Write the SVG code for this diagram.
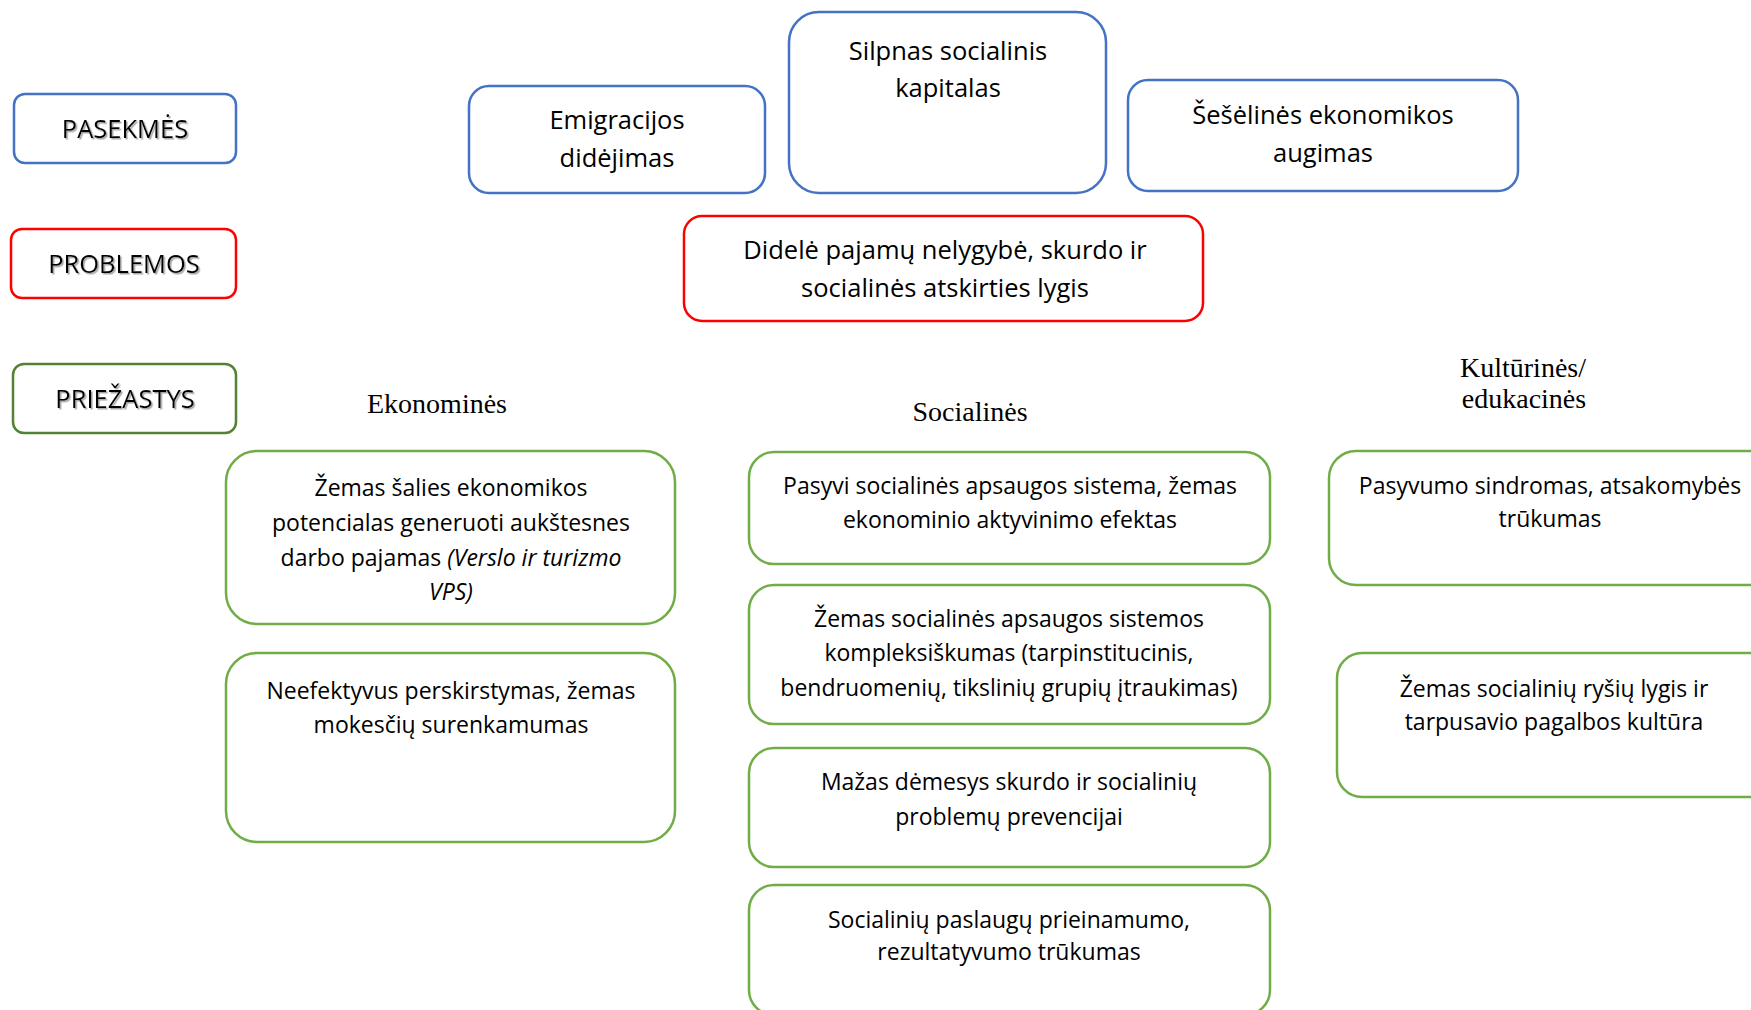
<svg xmlns="http://www.w3.org/2000/svg" width="1751" height="1010" viewBox="0 0 1751 1010">
<defs>
<style>
.t{font-family:"Open Sans","Liberation Sans",sans-serif;fill:#000;text-anchor:middle}
.big{font-size:25.5px}
.sm{font-size:23px}
.lbl{font-size:25.5px}
.hd{font-family:"Liberation Serif",serif;font-size:28px;fill:#000;text-anchor:middle}
.blue{fill:#fff;stroke:#4472C4;stroke-width:2.5}
.red{fill:#fff;stroke:#FF0000;stroke-width:2.5}
.dg{fill:#fff;stroke:#548235;stroke-width:2.5}
.g{fill:#fff;stroke:#70AD47;stroke-width:2.5}
.it{font-style:italic}
</style>
<filter id="sh" x="-10%" y="-30%" width="130%" height="170%">
<feDropShadow dx="1.5" dy="1.5" stdDeviation="0.7" flood-color="#8c8c8c" flood-opacity="0.8"/>
</filter>
</defs>
<rect width="1751" height="1010" fill="#fff"/>

<g id="label-pasekmes">
<rect class="blue" x="14" y="94" width="222" height="69" rx="11"/>
<text class="t lbl" x="125" y="138" filter="url(#sh)">PASEKMĖS</text>
</g>
<g id="label-problemos">
<rect class="red" x="11" y="229" width="225" height="69" rx="11"/>
<text class="t lbl" x="124" y="273" filter="url(#sh)">PROBLEMOS</text>
</g>
<g id="label-priezastys">
<rect class="dg" x="13" y="364" width="223" height="69" rx="11"/>
<text class="t lbl" x="125" y="408" filter="url(#sh)">PRIEŽASTYS</text>
</g>

<g id="emigracijos">
<rect class="blue" x="469" y="86" width="296" height="107" rx="20"/>
<text class="t big" x="617" y="129">Emigracijos</text>
<text class="t big" x="617" y="167">didėjimas</text>
</g>
<g id="silpnas">
<rect class="blue" x="789" y="12" width="317" height="181" rx="30"/>
<text class="t big" x="948" y="60">Silpnas socialinis</text>
<text class="t big" x="948" y="97">kapitalas</text>
</g>
<g id="seseline">
<rect class="blue" x="1128" y="80" width="390" height="111" rx="20"/>
<text class="t big" x="1323" y="124">Šešėlinės ekonomikos</text>
<text class="t big" x="1323" y="162">augimas</text>
</g>
<g id="didele">
<rect class="red" x="684" y="216" width="519" height="105" rx="18"/>
<text class="t big" x="945" y="259">Didelė pajamų nelygybė, skurdo ir</text>
<text class="t big" x="945" y="297">socialinės atskirties lygis</text>
</g>

<g id="hdr-ekonomines"><text class="hd" x="437" y="413">Ekonominės</text></g>
<g id="hdr-socialines"><text class="hd" x="970" y="421">Socialinės</text></g>
<g id="hdr-kulturines">
<text class="hd" x="1523" y="377">Kultūrinės/</text>
<text class="hd" x="1524" y="408">edukacinės</text>
</g>

<g id="eko1">
<rect class="g" x="226" y="451" width="449" height="173" rx="31"/>
<text class="t sm" x="451" y="496">Žemas šalies ekonomikos</text>
<text class="t sm" x="451" y="531">potencialas generuoti aukštesnes</text>
<text class="t sm" x="451" y="566">darbo pajamas <tspan class="it">(Verslo ir turizmo</tspan></text>
<text class="t sm it" x="451" y="600">VPS)</text>
</g>
<g id="eko2">
<rect class="g" x="226" y="653" width="449" height="189" rx="31"/>
<text class="t sm" x="451" y="699">Neefektyvus perskirstymas, žemas</text>
<text class="t sm" x="451" y="733">mokesčių surenkamumas</text>
</g>

<g id="soc1">
<rect class="g" x="749" y="452" width="521" height="112" rx="25"/>
<text class="t sm" x="1010" y="494">Pasyvi socialinės apsaugos sistema, žemas</text>
<text class="t sm" x="1010" y="528">ekonominio aktyvinimo efektas</text>
</g>
<g id="soc2">
<rect class="g" x="749" y="585" width="521" height="139" rx="25"/>
<text class="t sm" x="1009" y="627">Žemas socialinės apsaugos sistemos</text>
<text class="t sm" x="1009" y="661">kompleksiškumas (tarpinstitucinis,</text>
<text class="t sm" x="1009" y="696">bendruomenių, tikslinių grupių įtraukimas)</text>
</g>
<g id="soc3">
<rect class="g" x="749" y="748" width="521" height="119" rx="25"/>
<text class="t sm" x="1009" y="790">Mažas dėmesys skurdo ir socialinių</text>
<text class="t sm" x="1009" y="825">problemų prevencijai</text>
</g>
<g id="soc4">
<rect class="g" x="749" y="885" width="521" height="130" rx="25"/>
<text class="t sm" x="1009" y="928">Socialinių paslaugų prieinamumo,</text>
<text class="t sm" x="1009" y="960">rezultatyvumo trūkumas</text>
</g>

<g id="kult1">
<rect class="g" x="1329" y="451" width="460" height="134" rx="27"/>
<text class="t sm" x="1550" y="494">Pasyvumo sindromas, atsakomybės</text>
<text class="t sm" x="1550" y="527">trūkumas</text>
</g>
<g id="kult2">
<rect class="g" x="1337" y="653" width="460" height="144" rx="25"/>
<text class="t sm" x="1554" y="697">Žemas socialinių ryšių lygis ir</text>
<text class="t sm" x="1554" y="730">tarpusavio pagalbos kultūra</text>
</g>

<g id="connectors"></g>
</svg>
